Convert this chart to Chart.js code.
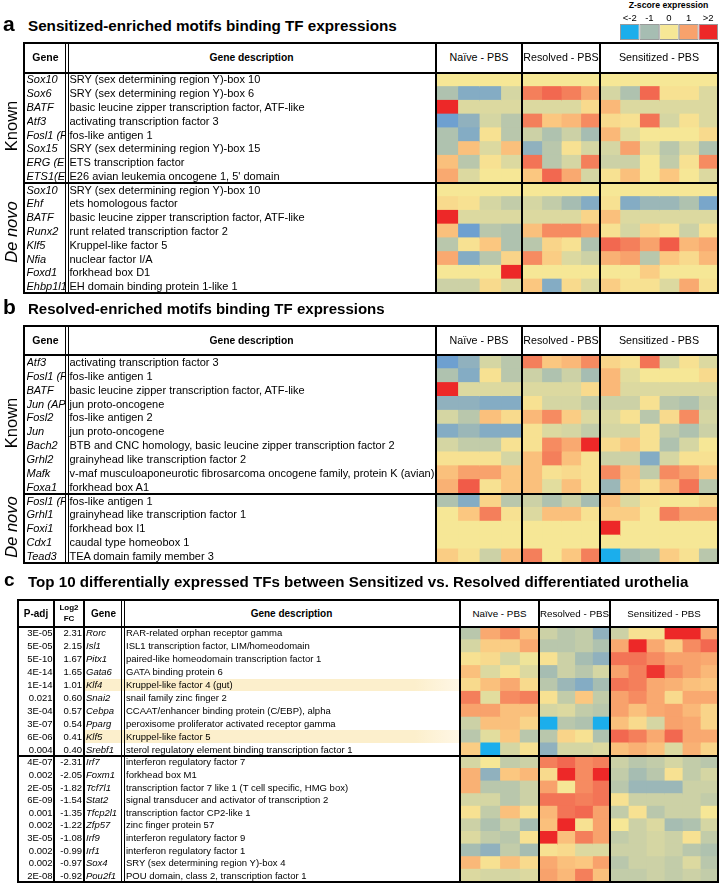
<!DOCTYPE html>
<html><head><meta charset="utf-8">
<script src="https://cdn.jsdelivr.net/npm/chart.js@4.4.1/dist/chart.umd.min.js"></script>
<style>
html,body{margin:0;padding:0;background:#fff;}
body{width:720px;height:884px;position:relative;overflow:hidden;font-family:"Liberation Sans",Arial,Helvetica,sans-serif;color:#000;}
</style></head><body>
<script>
// ---------------- DATA ----------------
const groupNames = ["Naïve - PBS", "Resolved - PBS", "Sensitized - PBS"];
const zLegendLabels = ["<-2", "-1", "0", "1", ">2"];
const zLegendValues = [-2.2, -1, 0, 1, 2.2];

const aTitle = "Sensitized-enriched motifs binding TF expressions";
const aGenes = ["Sox10","Sox6","BATF","Atf3","Fosl1 (Fra1)","Sox15","ERG (ETS)","ETS1(ETS)",
                "Sox10","Ehf","BATF","Runx2","Klf5","Nfia","Foxd1","Ehbp1l1"];
const aDesc = ["SRY (sex determining region Y)-box 10","SRY (sex determining region Y)-box 6",
  "basic leucine zipper transcription factor, ATF-like","activating transcription factor 3",
  "fos-like antigen 1","SRY (sex determining region Y)-box 15","ETS transcription factor",
  "E26 avian leukemia oncogene 1, 5' domain","SRY (sex determining region Y)-box 10",
  "ets homologous factor","basic leucine zipper transcription factor, ATF-like",
  "runt related transcription factor 2","Kruppel-like factor 5","nuclear factor I/A",
  "forkhead box D1","EH domain binding protein 1-like 1"];
const aNaive = [
  [0,0,0,0],[-0.9,-1.3,-1.3,-0.5],[2.3,-0.4,-0.4,-0.4],[-1.5,-1.2,-0.5,-0.8],
  [-0.9,-1.3,0.1,-0.8],[-0.9,0.6,-0.4,0.6],[0.6,-0.8,0.1,-0.4],[0.9,-0.4,0,0],
  [0,0,0,0],[0.2,0.1,-0.5,-0.7],[2.3,-0.4,-0.4,-0.4],[0.6,-1.5,-0.8,-0.9],
  [-0.8,0.1,0.5,-0.9],[0.9,-1.3,-0.8,0.3],[0,0,0,2.3],[-0.6,-0.6,0.2,-0.4]];
const aResolved = [
  [0,0,0,0],[1.3,1.5,1.3,0.9],[-0.4,-0.4,-0.4,0.2],[1.3,0.5,0.7,1.2],
  [-0.6,-0.9,-0.6,-1.0],[-1.2,-0.8,0.1,-0.5],[1.4,-0.8,-0.5,1.3],[0.5,1.5,0.9,-0.5],
  [0,0,0,0],[-0.5,-0.7,-1.0,-1.3],[-0.4,-0.4,-0.4,0.3],[0.6,1.2,1.2,1.0],
  [-0.8,0.3,0.1,-0.9],[1.2,0.4,-0.4,-0.6],[0,0,0,0],[0.5,-1.3,0.2,-0.4]];
const aSensitized = [
  [0,0,0,0,0,0],[-0.5,-0.9,1.5,0.1,0.1,-0.4],[0.7,-0.4,-0.4,-0.4,-0.4,-0.4],[0.2,0.1,1.4,-0.5,0.1,-0.4],
  [0.7,-0.3,0,0,0,0.2],[-0.5,1.0,-0.3,-0.8,-0.4,-0.9],[-0.6,-0.6,0,-0.7,0.1,1.2],[0.1,0.6,0,0.5,0,-0.4],
  [0,0,0,0,0,0],[0.1,-1.3,-1.1,-1.1,-0.9,-1.4],[0.6,-0.4,-0.4,-0.4,-0.4,-0.4],[0.1,-0.5,0.3,0.1,-0.6,0.1],
  [1.5,1.3,1.0,1.6,0.7,0.9],[0.8,1.0,-0.8,0.5,0.2,0.7],[0,0,0.4,0,0,0],[0.4,0.1,0.1,-0.4,0.9,0.1]];

const bTitle = "Resolved-enriched motifs binding TF expressions";
const bGenes = ["Atf3","Fosl1 (Fra1)","BATF","Jun (AP-1)","Fosl2","Jun","Bach2","Grhl2","Mafk","Foxa1",
                "Fosl1 (Fra1)","Grhl1","Foxi1","Cdx1","Tead3"];
const bDesc = ["activating transcription factor 3","fos-like antigen 1",
  "basic leucine zipper transcription factor, ATF-like","jun proto-oncogene","fos-like antigen 2",
  "jun proto-oncogene","BTB and CNC homology, basic leucine zipper transcription factor 2",
  "grainyhead like transcription factor 2",
  "v-maf musculoaponeurotic fibrosarcoma oncogene family, protein K (avian)","forkhead box A1",
  "fos-like antigen 1","grainyhead like transcription factor 1","forkhead box I1",
  "caudal type homeobox 1","TEA domain family member 3"];
const bNaive = [
  [-1.5,-1.2,-0.5,-0.8],[-0.9,-1.3,0.1,-0.8],[2.3,-0.4,-0.4,-0.4],[-1.2,-1.2,-1.3,-1.3],
  [-0.5,-0.8,0.6,0.2],[-1.3,-1.1,-1.3,-1.3],[-0.5,-0.7,-0.7,0.1],[0.1,0.1,0.1,-0.5],
  [0.6,1.0,1.0,0.5],[0.8,1.6,0.1,0.5],
  [-0.9,-1.3,0.3,-0.8],[0,0.5,1.3,0.1],[0,0,0,0],[0,0,0,0],[0.4,0.1,-0.6,0.6]];
const bResolved = [
  [1.3,0.5,0.7,1.2],[-0.6,-0.9,-0.6,-1.0],[-0.4,-0.4,-0.4,0.2],[0.1,-0.5,-0.5,-0.7],
  [0.7,1.2,0.4,-0.4],[0.1,-0.4,-0.5,-0.7],[0.1,1.2,0.9,2.2],[0.6,1.3,0.6,0.1],
  [0.6,0.1,0.2,0.1],[0.6,-0.3,0.6,0.1],
  [-0.6,-0.9,-0.6,-1.0],[-0.4,0.6,0.6,0.1],[0,0,0,0],[0,0,0,0],[1.3,0,0.5,1.3]];
const bSensitized = [
  [0.3,0.1,1.4,-0.5,0.1,-0.4],[0.7,-0.3,0,0,0,0.2],[0.7,-0.4,-0.4,-0.4,-0.4,-0.4],[-0.6,-0.6,0.1,-0.8,-0.9,-0.6],
  [-0.4,0.1,-0.8,0.2,1.2,-0.5],[-0.5,-0.5,0.1,-0.7,-0.9,-0.6],[0.2,0.5,0.1,-0.9,-0.5,0],[-0.6,-0.6,-1.3,-0.5,0.1,0.1],
  [1.2,0.6,-0.7,1.2,1.0,0.5],[-1.1,0.5,0.1,0.7,1.4,-0.8],
  [0.6,-0.4,0.1,0,0,0.2],[0.4,0.4,0,1.3,1.0,1.0],[2.2,0,0,0,0,0],[0,0,0,0,0,0],[-2.2,-1.0,-0.9,0.4,0.1,-0.8]];

const cTitle = "Top 10 differentially expressed TFs between Sensitized vs. Resolved differentiated urothelia";
const cPadj = ["3E-05","5E-05","5E-10","4E-14","1E-14","0.021","3E-04","3E-07","6E-06","0.004",
               "4E-07","0.002","2E-05","6E-09","0.001","0.002","3E-05","0.002","0.002","2E-08"];
const cLog2FC = [2.31,2.15,1.67,1.65,1.01,0.60,0.57,0.54,0.41,0.40,
                 -2.31,-2.05,-1.82,-1.54,-1.35,-1.22,-1.08,-0.99,-0.97,-0.92];
const cGenes = ["Rorc","Isl1","Pitx1","Gata6","Klf4","Snai2","Cebpa","Pparg","Klf5","Srebf1",
                "Irf7","Foxm1","Tcf7l1","Stat2","Tfcp2l1","Zfp57","Irf9","Irf1","Sox4","Pou2f1"];
const cDesc = ["RAR-related orphan receptor gamma","ISL1 transcription factor, LIM/homeodomain",
  "paired-like homeodomain transcription factor 1","GATA binding protein 6","Kruppel-like factor 4 (gut)",
  "snail family zinc finger 2","CCAAT/enhancer binding protein (C/EBP), alpha",
  "peroxisome proliferator activated receptor gamma","Kruppel-like factor 5",
  "sterol regulatory element binding transcription factor 1","interferon regulatory factor 7",
  "forkhead box M1","transcription factor 7 like 1 (T cell specific, HMG box)",
  "signal transducer and activator of transcription 2","transcription factor CP2-like 1",
  "zinc finger protein 57","interferon regulatory factor 9","interferon regulatory factor 1",
  "SRY (sex determining region Y)-box 4","POU domain, class 2, transcription factor 1"];
const cHighlighted = ["Klf4","Klf5"];
const cNaive = [
  [-0.8,0.9,1.2,0.6],[-0.5,0.4,0.4,0.9],[0.1,0.2,-0.5,-0.1],[0.6,-0.4,0.1,-0.4],[0.2,0.6,0.9,0.2],
  [1.3,-0.3,1.2,1.3],[1.0,1.0,0.6,0.6],[-0.6,0.6,0.6,0.3],[-0.8,-0.3,0.5,-0.8],[0.4,-2.1,-0.5,0.1],
  [-0.5,0.0,-0.7,-0.6],[0.8,-1.2,0.5,0.7],[0.8,-0.8,-0.8,-0.6],[-0.5,-0.5,-0.8,-0.6],[0.1,-0.7,0.6,0.1],
  [-0.6,-0.9,-0.6,-1.0],[-0.4,-0.7,-0.8,0.1],[-1.0,-1.2,-0.7,-1.0],[0.7,0.1,0.6,0.2],[-0.4,-0.5,-0.5,-0.4]];
const cResolved = [
  [-0.6,-0.8,-0.7,-1.2],[-0.8,-0.8,-0.7,-0.9],[0.1,-0.6,-1.0,-1.2],[-1.0,-0.6,-0.8,-0.5],[-0.8,-1.1,-1.3,-1.0],
  [0.1,-0.7,0.5,-0.7],[-0.5,-0.4,-0.7,-0.8],[-2.1,-0.8,-0.9,-2.1],[-0.8,0.3,0.1,-0.9],[-1.2,-0.5,-0.5,-0.4],
  [1.3,1.5,1.2,1.3],[0.2,2.1,1.2,2.1],[1.0,0.0,1.2,1.4],[1.4,1.4,1.3,1.4],[0.7,1.4,1.5,1.0],
  [0.6,2.1,0.1,1.0],[2.1,0.6,1.3,1.0],[0.1,0.2,-0.4,-0.4],[0.9,0.6,0.5,1.0],[1.0,0.7,1.3,0.6]];
const cSensitized = [
  [-0.6,0.1,0.1,2.2,2.2,0.9],[0.9,2.0,0.9,0.4,1.2,1.5],[1.4,1.4,1.2,1.0,1.0,0.9],[1.0,1.3,1.9,1.2,1.0,0.7],
  [1.4,1.3,0.9,0.8,0.6,0.5],[1.0,1.2,0.9,0.2,0.9,0.9],[1.0,0.6,0.9,1.0,0.7,0.3],[0.6,0.2,-0.5,1.0,0.9,0.3],
  [1.5,1.3,0.9,1.5,0.9,0.9],[0.6,0.8,0.6,-0.4,0.8,0.3],
  [-0.6,-0.8,-0.7,-0.5,-0.7,-0.8],[-0.7,-1.0,-0.8,0.1,-0.7,-0.5],[-0.8,-1.1,-1.1,-1.1,-0.6,-0.6],
  [0.1,-0.6,-0.6,-0.6,-0.6,-0.7],[-0.7,0.1,-0.8,-0.6,-0.6,0.0],[0.0,-0.6,-0.4,-1.0,-0.9,-0.5],
  [-0.7,-0.6,-0.5,-0.6,0.1,-0.7],[-0.6,-0.6,-0.5,-0.6,-0.8,-0.9],[-0.8,-0.6,-0.6,-0.7,-0.4,-0.8],
  [-0.7,-0.7,-0.6,-0.7,-0.6,-0.7]];

// ---------------- HELPERS ----------------
const body = document.body;
function el(css, text) {
  const e = document.createElement('div');
  e.style.position = 'absolute';
  Object.assign(e.style, css);
  if (text != null) e.textContent = text;
  body.appendChild(e);
  return e;
}
function hline(x0, x1, y, t) { t = t || 2; el({left:x0+'px', top:(y-t/2)+'px', width:(x1-x0)+'px', height:t+'px', background:'#000', zIndex:5}); }
function vline(x, y0, y1, t) { t = t || 2; el({left:(x-t/2)+'px', top:y0+'px', width:t+'px', height:(y1-y0)+'px', background:'#000', zIndex:5}); }
function dvline(x, y0, y1) { vline(x-1.3, y0, y1, 1); vline(x+1.3, y0, y1, 1); }
function rect(x0, y0, x1, y1, t) { hline(x0-t/2, x1+t/2, y0, t); hline(x0-t/2, x1+t/2, y1, t); vline(x0, y0, y1, t); vline(x1, y0, y1, t); }
function txt(s, x, y, o) {
  o = o || {};
  const size = o.size || 11, lh = Math.round(size * 1.25);
  const css = {whiteSpace:'nowrap', fontSize:size+'px', lineHeight:lh+'px', height:lh+'px', top:(y-lh/2)+'px',
    fontWeight:o.bold?'bold':'normal', fontStyle:o.italic?'italic':'normal', zIndex:6};
  if (o.align === 'center') { css.left = x+'px'; css.transform = 'translateX(-50%)'; }
  else if (o.align === 'right') { css.right = (720-x)+'px'; }
  else css.left = x+'px';
  if (o.clip) { css.width = o.clip+'px'; css.overflow = 'hidden'; }
  const e = el(css, s);
  if (o.fit) { const w = e.getBoundingClientRect().width; e.style.fontSize = (size*o.fit/w)+'px'; }
  return e;
}
function vtxt(s, x, y, size, italic) {
  el({left:x+'px', top:y+'px', fontSize:size+'px', lineHeight:'1', whiteSpace:'nowrap',
      fontStyle:italic?'italic':'normal', transform:'translate(-50%,-50%) rotate(-90deg)', zIndex:6}, s);
}
const STOPS = [[-2,[27,174,236]],[-1.5,[110,160,208]],[-1,[166,189,178]],[-0.5,[213,214,163]],
  [0,[246,231,150]],[0.5,[251,199,128]],[1,[248,162,108]],[1.5,[242,104,80]],[2,[237,40,40]]];
function zColor(z) {
  if (z <= STOPS[0][0]) return 'rgb(' + STOPS[0][1].join(',') + ')';
  for (let i = 1; i < STOPS.length; i++) {
    if (z <= STOPS[i][0]) {
      const [z0, c0] = STOPS[i-1], [z1, c1] = STOPS[i], f = (z-z0)/(z1-z0);
      return 'rgb(' + c0.map((v,k) => Math.round(v+(c1[k]-v)*f)).join(',') + ')';
    }
  }
  return 'rgb(' + STOPS[STOPS.length-1][1].join(',') + ')';
}
function heatmap(x0, y0, x1, y1, labels, matrix, border) {
  const c = document.createElement('canvas');
  const w = x1-x0, h = y1-y0;
  c.width = w; c.height = h;
  Object.assign(c.style, {position:'absolute', left:x0+'px', top:y0+'px', width:w+'px', height:h+'px', zIndex:1});
  body.appendChild(c);
  const ncol = matrix[0].length;
  const datasets = [];
  for (let j = 0; j < ncol; j++) {
    datasets.push({data: matrix.map(() => 1), backgroundColor: matrix.map(r => zColor(r[j])),
      borderWidth: border ? 1 : 0, borderColor: '#9a9a9a', borderSkipped: false,
      barPercentage: 1, categoryPercentage: 1, inflateAmount: border ? 0 : 0.6});
  }
  new Chart(c, {type:'bar', data:{labels: labels, datasets: datasets},
    options:{indexAxis:'y', responsive:false, animation:false, events:[], layout:{padding:0},
      plugins:{legend:{display:false}, tooltip:{enabled:false}},
      scales:{x:{stacked:true, display:false, min:0, max:ncol}, y:{stacked:true, display:false}}}});
}

// ---------------- LEGEND ----------------
txt("Z-score expression", 668.5, 5.5, {size:8.7, bold:true, align:'center'});
const legX0 = 620, legX1 = 718;
zLegendLabels.forEach((l, i) => txt(l, legX0 + (i+0.5)*(legX1-legX0)/5, 18, {size:9.5, align:'center'}));
heatmap(legX0, 24, legX1, 40, ["z"], [zLegendValues], true);

// ---------------- PANELS a & b ----------------
function motifPanel(letter, title, titleY, titleW, genes, desc, nai, res, sen, top, hdrBot, bottom, nKnown, knownY, denovoY) {
  txt(letter, 3, titleY-1.5, {size:21, bold:true});
  txt(title, 28, titleY, {size:15, bold:true, fit:titleW});
  const gx = [24, 67, 436, 522, 600, 718];
  const rowH = (bottom - hdrBot) / genes.length;
  heatmap(gx[2], hdrBot, gx[3], bottom, genes, nai);
  heatmap(gx[3], hdrBot, gx[4], bottom, genes, res);
  heatmap(gx[4], hdrBot, gx[5], bottom, genes, sen);
  rect(gx[0], top, gx[5], bottom, 2);
  hline(gx[0], gx[5], hdrBot, 2);
  dvline(gx[1], top, bottom);
  vline(gx[2], top, bottom, 2); vline(gx[3], top, bottom, 2); vline(gx[4], top, bottom, 2);
  hline(gx[0], gx[5], hdrBot + nKnown*rowH, 2);
  const hy = (top + hdrBot) / 2;
  txt("Gene", (gx[0]+gx[1])/2, hy, {size:10.5, bold:true, align:'center'});
  txt("Gene description", (gx[1]+gx[2])/2, hy, {size:10.3, bold:true, align:'center'});
  groupNames.forEach((g, i) => txt(g, (gx[2+i]+gx[3+i])/2, hy, {size:10.7, align:'center'}));
  genes.forEach((g, i) => {
    const y = hdrBot + (i+0.5)*rowH;
    txt(g, 26.5, y, {size:11, italic:true, clip:38.5});
    txt(desc[i], 69.5, y, {size:11});
  });
  vtxt("Known", 11, knownY, 16.5, false);
  vtxt("De novo", 11, denovoY, 16.5, true);
}
motifPanel('a', aTitle, 25.8, 369, aGenes, aDesc, aNaive, aResolved, aSensitized, 43, 72.5, 293, 8, 126, 232);
motifPanel('b', bTitle, 308.5, 357, bGenes, bDesc, bNaive, bResolved, bSensitized, 326, 355, 563, 10, 423, 527);

// ---------------- PANEL c ----------------
(function(){
  const titleY = 581;
  txt('c', 4, titleY-1, {size:19, bold:true});
  txt(cTitle, 28, titleY, {size:15, bold:true, fit:661});
  const cx = [18, 54, 84, 123, 460, 539, 610, 718];
  const top = 600, hdrBot = 627, sep = 756, bottom = 882;
  const nTop = 10;
  const rowTop = (sep - hdrBot) / nTop, rowBot = (bottom - sep) / (cGenes.length - nTop);
  const rowY = i => i < nTop ? hdrBot + (i+0.5)*rowTop : sep + (i-nTop+0.5)*rowBot;
  const rowH = i => i < nTop ? rowTop : rowBot;
  cGenes.forEach((g, i) => {
    if (cHighlighted.indexOf(g) >= 0) {
      el({left:cx[2]+'px', top:(rowY(i)-rowH(i)/2)+'px', width:(cx[4]-cx[2])+'px', height:rowH(i)+'px',
          background:'linear-gradient(to right, #fcefcc 0%, #fcefcc 88%, #fff7e6 100%)', zIndex:0});
    }
  });
  const blocks = [[hdrBot, sep, 0, nTop], [sep, bottom, nTop, cGenes.length]];
  const mats = [cNaive, cResolved, cSensitized];
  blocks.forEach(([y0, y1, r0, r1]) => {
    mats.forEach((m, k) => heatmap(cx[4+k], y0, cx[5+k], y1, cGenes.slice(r0, r1), m.slice(r0, r1)));
  });
  rect(cx[0], top, cx[7], bottom, 2);
  hline(cx[0], cx[7], hdrBot, 2);
  vline(cx[1], top, bottom, 1.3); vline(cx[2], top, bottom, 1.3);
  dvline(cx[3], top, bottom);
  vline(cx[4], top, bottom, 2); vline(cx[5], top, bottom, 2); vline(cx[6], top, bottom, 2);
  hline(cx[0], cx[7], sep, 2);
  const hy = (top + hdrBot) / 2;
  txt("P-adj", (cx[0]+cx[1])/2, hy, {size:10, bold:true, align:'center'});
  txt("Log2", (cx[1]+cx[2])/2, hy-6, {size:8, bold:true, align:'center'});
  txt("FC", (cx[1]+cx[2])/2, hy+5, {size:8, bold:true, align:'center'});
  txt("Gene", (cx[2]+cx[3])/2, hy, {size:10, bold:true, align:'center'});
  txt("Gene description", (cx[3]+cx[4])/2, hy, {size:10, bold:true, align:'center'});
  groupNames.forEach((g, i) => txt(g, (cx[4+i]+cx[5+i])/2, hy, {size:9.8, align:'center'}));
  cGenes.forEach((g, i) => {
    const y = rowY(i);
    txt(cPadj[i], 52.5, y, {size:9.5, align:'right'});
    txt(cLog2FC[i].toFixed(2), 82, y, {size:9.5, align:'right'});
    txt(g, 86, y, {size:9.5, italic:true});
    txt(cDesc[i], 126, y, {size:9.5});
  });
})();
</script>
</body></html>
